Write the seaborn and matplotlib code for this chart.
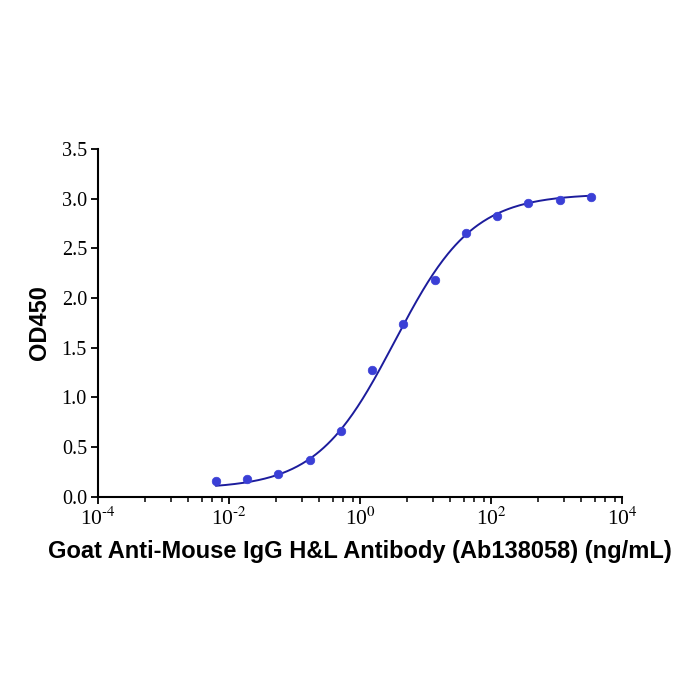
import numpy as np
import pandas as pd
import matplotlib
matplotlib.use('Agg')
import matplotlib.pyplot as plt
from matplotlib.ticker import FixedLocator, NullFormatter
import seaborn as sns

# measured points (ng/mL, OD450)
conc = [0.00627, 0.0188, 0.0565, 0.169, 0.508, 1.52, 4.57, 13.7, 41.2, 123.0, 370.0, 1111.0, 3333.0]
od450 = [0.155, 0.175, 0.225, 0.367, 0.66, 1.28, 1.74, 2.18, 2.66, 2.83, 2.96, 2.99, 3.02]

# 4PL fit parameters
fit_bottom = 0.08
fit_top = 3.05
fit_ec50 = 3.37
fit_hill = 0.73

x_major = [1e-4, 1e-2, 1e0, 1e2, 1e4]
x_major_labels = ['10$^{‐4}$', '10$^{‐2}$', '10$^{0}$', '10$^{2}$', '10$^{4}$']
# minor ticks between the majors (multiples of each major)
minor_mult = [5.25, 12.9, 23.4, 38.0, 55.0, 76.7]

sns.set_style('ticks')
plt.rcParams['mathtext.fontset'] = 'stix'
plt.rcParams['text.color'] = 'black'
plt.rcParams['axes.labelcolor'] = 'black'

df = pd.DataFrame({'conc': conc, 'od': od450})
xs = np.logspace(np.log10(conc[0]), np.log10(conc[-1]), 300)
curve = pd.DataFrame({'conc': xs,
                      'od': fit_top + (fit_bottom - fit_top) / (1 + (xs / fit_ec50) ** fit_hill)})

fig = plt.figure(figsize=(7, 7), dpi=100)
ax = fig.add_axes([0.14, 0.2904, 0.749, 0.4966])

sns.lineplot(data=curve, x='conc', y='od', color='#1c1c9c', linewidth=1.4, ax=ax)
sns.scatterplot(data=df, x='conc', y='od', color='#3a3fd6', s=38, edgecolor='#3a3fd6', linewidth=0.5, ax=ax, zorder=3)

ax.set_xscale('log')
ax.set_xlim(1e-4, 1e4)
ax.set_ylim(0, 3.5)
ax.set_xticks(x_major)
ax.set_xticklabels(x_major_labels)
ax.xaxis.set_minor_locator(FixedLocator([m * k for m in x_major[:-1] for k in minor_mult]))
ax.xaxis.set_minor_formatter(NullFormatter())
ax.set_yticks(np.arange(0, 3.51, 0.5))
ax.set_yticklabels([f'{v:.1f}' for v in np.arange(0, 3.51, 0.5)])

for lab in ax.get_yticklabels():
    lab.set_fontfamily('Liberation Serif')
    lab.set_fontsize(14.5)
    lab.set_color('black')
for lab in ax.get_xticklabels():
    lab.set_fontfamily('Liberation Serif')
    lab.set_fontsize(15.5)
    lab.set_color('black')

ax.tick_params(axis='both', which='major', direction='out', length=5, width=1.3, colors='black', pad=3)
ax.tick_params(axis='x', which='minor', direction='out', length=3.5, width=1.1, colors='black')
sns.despine(ax=ax)
for sp in ['left', 'bottom']:
    ax.spines[sp].set_linewidth(1.5)
    ax.spines[sp].set_color('black')

ax.set_xlabel('Goat Anti-Mouse IgG H&L Antibody (Ab138058) (ng/mL)', fontfamily='Liberation Sans',
              fontweight='bold', fontsize=17, labelpad=7, color='black')
ax.set_ylabel('OD450', fontfamily='Liberation Sans', fontweight='bold', fontsize=17, labelpad=8, color='black')

fig.savefig('out.png', dpi=100, facecolor='white')
